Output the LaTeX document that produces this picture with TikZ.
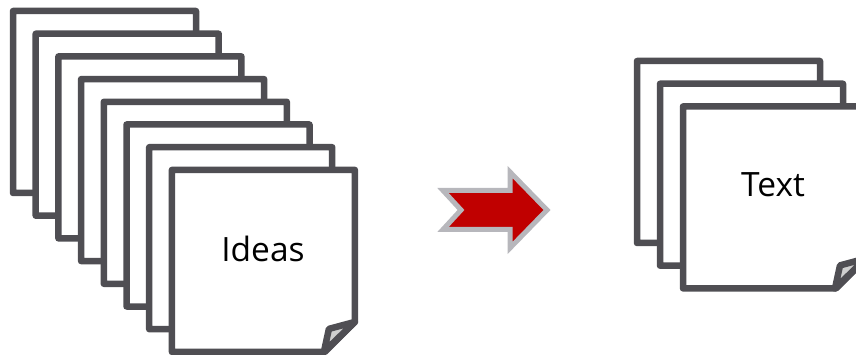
\documentclass[tikz,border=0pt]{standalone}
\usepackage{fontspec}
\setmainfont{Open Sans}
\definecolor{sheetline}{HTML}{4F4E53}
\definecolor{flapfill}{HTML}{CFCFCF}
\definecolor{arrowred}{HTML}{C00000}
\definecolor{arrowline}{HTML}{B7B7BC}
\tikzset{
  sheet/.style={draw=sheetline,fill=white,line width=6.5pt,line join=round},
  flap/.style={draw=sheetline,fill=flapfill,line width=6.5pt,line join=round},
  sheetlabel/.style={font=\fontsize{33.5}{34}\selectfont,text=black,inner sep=0pt},
  bigarrow/.style={draw=arrowline,fill=arrowred,line width=5pt,line join=miter}
}
\newcommand{\drawsheet}[2]{%
  \draw[sheet] (#1,#2) -- ++(183,0) -- ++(0,152) -- ++(-30,30) -- (#1,#2+182) -- cycle;
  \draw[flap] (#1+183,#2+152) -- (#1+157,#2+159) -- (#1+152,#2+182) -- cycle;
}
\begin{document}
\begin{tikzpicture}[x=1pt,y=-1pt]
\useasboundingbox (0,0) rectangle (856,355);
\clip (0,0) rectangle (856,355);
\foreach \i in {0,...,7}{
  \pgfmathsetmacro{\px}{13+22.7*\i}
  \pgfmathsetmacro{\py}{11+22.7*\i}
  \drawsheet{\px}{\py}
}
\foreach \i in {0,1,2}{
  \pgfmathsetmacro{\px}{637+23*\i}
  \pgfmathsetmacro{\py}{61+22.7*\i}
  \drawsheet{\px}{\py}
}
\node[sheetlabel] (ideas) at (263,249) {Ideas};
\node[sheetlabel] (text) at (773,184.5) {Text};
\draw[bigarrow] (443,190.5) -- (461,210) -- (443,229.5) -- (510,229.5) -- (510,248) -- (547,210) -- (510,172) -- (510,190.5) -- cycle;
\end{tikzpicture}
\end{document}
